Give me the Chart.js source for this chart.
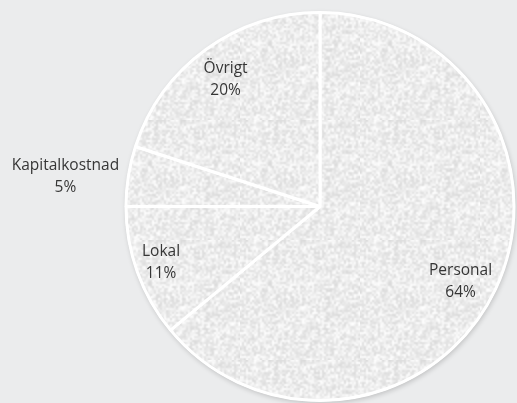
<!DOCTYPE html>
<html lang="sv">
<head>
<meta charset="UTF-8">
<script src="https://cdn.jsdelivr.net/npm/chart.js"></script>
<title>Kostnader</title>
<style>
  html, body { margin: 0; padding: 0; background: #ebeced; }
  #wrap { width: 517px; height: 403px; }
</style>
</head>
<body>
<div id="wrap"><canvas id="pieChart" width="517" height="403"></canvas></div>
<script>
// values, clockwise from 12 o'clock
var categories = ['Personal', 'Lokal', 'Kapitalkostnad', 'Övrigt'];
var shares = [64, 11, 5, 20];
// label placement: distance from centre (fraction of radius) and small turn off the slice middle (degrees)
var labelDist = [0.82, 0.867, 1.322, 0.818];
var labelTurn = [2.7, 0.7, -2, -0.5];

// speckled grey fill like the original
function makeSpeckle() {
    var n = 60;
    var small = document.createElement('canvas');
    small.width = n; small.height = n;
    var g = small.getContext('2d');
    var img = g.createImageData(n, n);
    var seed = 987;
    for (var i = 0; i < n * n; i++) {
        seed = (seed * 1103515245 + 12345) & 0x7fffffff;
        var v = 219 + ((seed >> 8) % 36);
        img.data[i * 4] = v;
        img.data[i * 4 + 1] = v;
        img.data[i * 4 + 2] = v;
        img.data[i * 4 + 3] = 255;
    }
    g.putImageData(img, 0, 0);
    var big = document.createElement('canvas');
    big.width = n * 2; big.height = n * 2;
    var b = big.getContext('2d');
    b.imageSmoothingEnabled = true;
    b.drawImage(small, 0, 0, n * 2, n * 2);
    return b.createPattern(big, 'repeat');
}

var pieShadow = {
    id: 'pieShadow',
    beforeDatasetsDraw: function (chart) {
        var arc = chart.getDatasetMeta(0).data[0];
        var ctx = chart.ctx;
        ctx.save();
        ctx.shadowColor = 'rgba(0,0,0,0.18)';
        ctx.shadowBlur = 5;
        ctx.shadowOffsetX = 1;
        ctx.shadowOffsetY = 2;
        ctx.fillStyle = '#ffffff';
        ctx.beginPath();
        ctx.arc(arc.x, arc.y, arc.outerRadius + 1, 0, Math.PI * 2);
        ctx.fill();
        ctx.restore();
    }
};

var sliceLabels = {
    id: 'sliceLabels',
    afterDatasetsDraw: function (chart) {
        var ctx = chart.ctx;
        ctx.save();
        ctx.font = '15.5px "Open Sans", sans-serif';
        ctx.fillStyle = '#363636';
        ctx.textAlign = 'center';
        ctx.textBaseline = 'alphabetic';
        chart.getDatasetMeta(0).data.forEach(function (arc, i) {
            var mid = (arc.startAngle + arc.endAngle) / 2 + labelTurn[i] * Math.PI / 180;
            var r = arc.outerRadius * labelDist[i];
            var x = arc.x + Math.cos(mid) * r;
            var y = arc.y + Math.sin(mid) * r;
            ctx.fillText(categories[i], x, y - 5.5);
            ctx.fillText(shares[i] + '%', x, y + 16.5);
        });
        ctx.restore();
    }
};

var ctx = document.getElementById('pieChart').getContext('2d');
var fill = makeSpeckle();
new Chart(ctx, {
    type: 'pie',
    data: {
        labels: categories,
        datasets: [{
            data: shares,
            backgroundColor: fill,
            borderColor: '#ffffff',
            borderWidth: 3
        }]
    },
    options: {
        responsive: false,
        animation: false,
        radius: 194,
        layout: { padding: { left: 126, right: 3, top: 12, bottom: 2 } },
        plugins: {
            legend: { display: false },
            tooltip: { enabled: false }
        }
    },
    plugins: [pieShadow, sliceLabels]
});
</script>
</body>
</html>
